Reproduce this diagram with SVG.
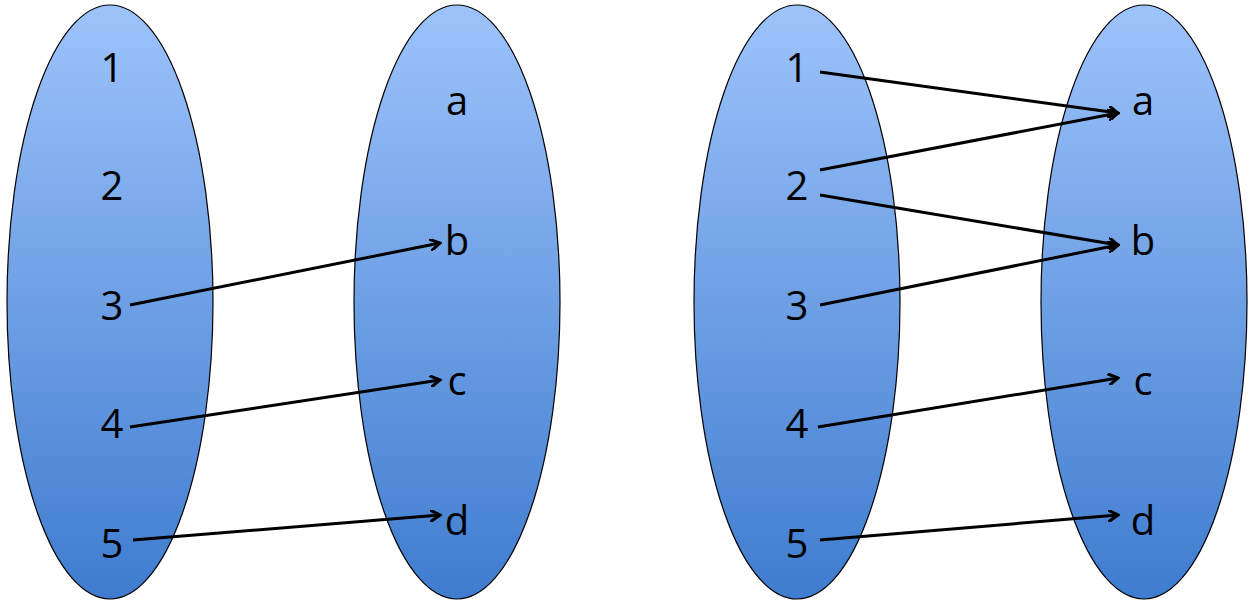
<svg xmlns="http://www.w3.org/2000/svg" width="1254" height="610" viewBox="0 0 1254 610">
<defs>
<linearGradient id="g" x1="0" y1="0" x2="0" y2="1"><stop offset="0" stop-color="#9dc3fb"/><stop offset="1" stop-color="#3f7ccf"/></linearGradient>
<marker id="ah" markerWidth="12" markerHeight="12" refX="10" refY="6" orient="auto" markerUnits="userSpaceOnUse"><path d="M0,0 L10,6 L0,12" fill="none" stroke="#000" stroke-width="3"/></marker>
</defs>
<style>
.e{fill:url(#g);stroke:#000;stroke-width:1.2}
text{font-family:"Open Sans","Liberation Sans",sans-serif;font-size:40px;fill:#000;text-anchor:middle}
.c line{stroke:#000;stroke-width:3;marker-end:url(#ah)}
</style>
<g id="setA"><ellipse class="e" cx="110" cy="302" rx="103" ry="297"/><text x="112" y="82">1</text><text x="112" y="200">2</text><text x="112" y="320">3</text><text x="112" y="438">4</text><text x="112" y="558">5</text></g>
<g id="setB"><ellipse class="e" cx="457" cy="302" rx="103" ry="297"/><text x="457" y="115">a</text><text x="457" y="255">b</text><text x="457" y="395">c</text><text x="457" y="535">d</text></g>
<g id="setC"><ellipse class="e" cx="797" cy="302" rx="103" ry="297"/><text x="797" y="82">1</text><text x="797" y="200">2</text><text x="797" y="320">3</text><text x="797" y="438">4</text><text x="797" y="558">5</text></g>
<g id="setD"><ellipse class="e" cx="1144" cy="302" rx="103" ry="297"/><text x="1143" y="115">a</text><text x="1143" y="255">b</text><text x="1143" y="395">c</text><text x="1143" y="535">d</text></g>
<g class="c" id="connectors">
<line x1="130" y1="305" x2="440" y2="243"/>
<line x1="130" y1="427" x2="440" y2="380"/>
<line x1="133" y1="540" x2="440" y2="515"/>
<line x1="820" y1="72" x2="1118" y2="113"/>
<line x1="820" y1="170" x2="1118" y2="113"/>
<line x1="820" y1="195" x2="1118" y2="245"/>
<line x1="820" y1="305" x2="1118" y2="245"/>
<line x1="818" y1="427" x2="1118" y2="378"/>
<line x1="820" y1="540" x2="1118" y2="515"/>
</g>
</svg>
